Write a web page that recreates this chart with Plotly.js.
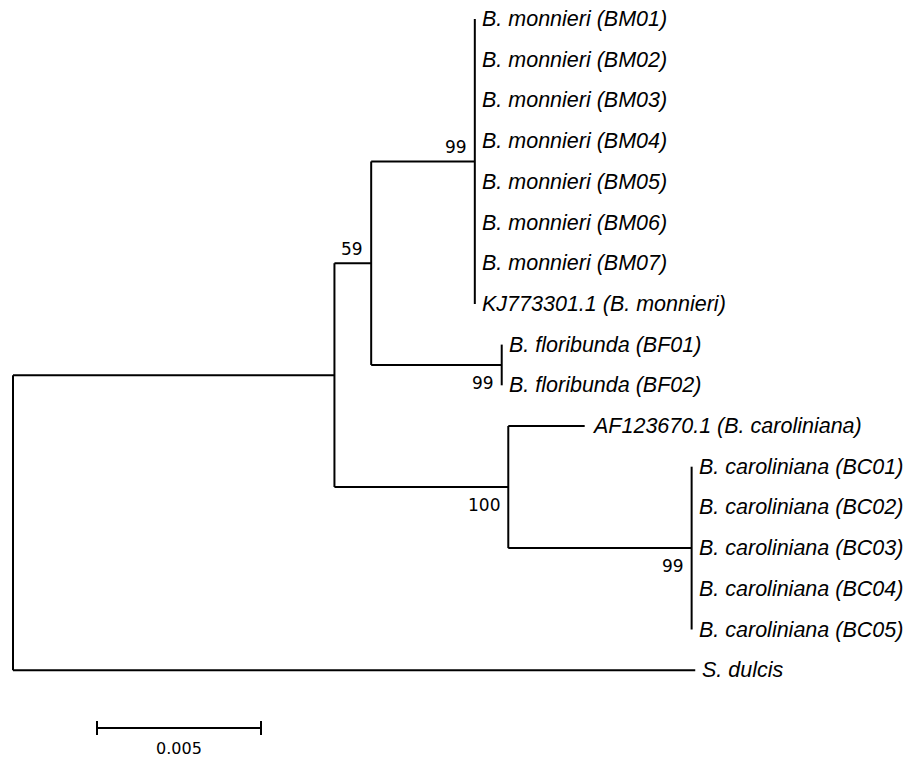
<!DOCTYPE html>
<html>
<head>
<meta charset="utf-8">
<script src="https://cdn.plot.ly/plotly-3.0.1.min.js"></script>
<style>html,body{margin:0;padding:0;background:#fff;}#chart{width:909px;height:758px;}</style>
</head>
<body>
<div id="chart"></div>
<script>
// ---- Data ----
// Internal nodes of the tree (parent, branch length in substitutions/site, bootstrap)
const nodeIds      = ['root', 'ingroup', 'n59', 'cladeBM', 'cladeBF', 'n100', 'cladeBC'];
const nodeParent   = [null,   'root',    'ingroup', 'n59',  'n59',     'ingroup', 'n100'];
const nodeLength   = [0,      0.0098,    0.00112,  0.00316, 0.00398,   0.0053,    0.00559];
const nodeBootstrap= [null,   null,      59,       99,      99,        100,       99];

// Taxa (leaves) in display order
const taxa = [
  'B. monnieri (BM01)', 'B. monnieri (BM02)', 'B. monnieri (BM03)', 'B. monnieri (BM04)',
  'B. monnieri (BM05)', 'B. monnieri (BM06)', 'B. monnieri (BM07)', 'KJ773301.1 (B. monnieri)',
  'B. floribunda (BF01)', 'B. floribunda (BF02)',
  'AF123670.1 (B. caroliniana)',
  'B. caroliniana (BC01)', 'B. caroliniana (BC02)', 'B. caroliniana (BC03)',
  'B. caroliniana (BC04)', 'B. caroliniana (BC05)',
  'S. dulcis'
];
const taxonParent = [
  'cladeBM','cladeBM','cladeBM','cladeBM','cladeBM','cladeBM','cladeBM','cladeBM',
  'cladeBF','cladeBF',
  'n100',
  'cladeBC','cladeBC','cladeBC','cladeBC','cladeBC',
  'root'
];
const taxonLength = [0,0,0,0,0,0,0,0, 0,0, 0.00233, 0,0,0,0,0, 0.0208];

const scaleBarLength = 0.005;
const scaleBarLabel = '0.005';

// ---- Layout of the tree ----
const W = 909, H = 758;
const pxPerUnit = 32800;      // horizontal scale
const rootPx = 13;            // root x in pixels
const rowPx = 40.7, firstRowPx = 19;

const xRange = [-rootPx / pxPerUnit, (W - rootPx) / pxPerUnit];
const yRange = [(H - firstRowPx) / rowPx, -firstRowPx / rowPx];

const X = {}, Y = {}, children = {};
nodeIds.forEach(id => children[id] = []);
nodeIds.forEach((id, i) => { if (nodeParent[i]) children[nodeParent[i]].push({id: id, len: nodeLength[i]}); });
taxa.forEach((t, i) => children[taxonParent[i]].push({id: 'T' + i, len: taxonLength[i]}));
taxa.forEach((t, i) => { Y['T' + i] = i; });

function computeY(id) {
  const ch = children[id] || [];
  if (!ch.length) return Y[id];
  const ys = ch.map(c => computeY(c.id));
  Y[id] = (Math.min(...ys) + Math.max(...ys)) / 2;
  return Y[id];
}
function place(id, x) {
  X[id] = x;
  (children[id] || []).forEach(c => place(c.id, x + c.len));
}
computeY('root');
place('root', 0);

const lx = [], ly = [];
function drawNode(id) {
  const ch = children[id] || [];
  if (!ch.length) return;
  const ys = ch.map(c => Y[c.id]);
  lx.push(X[id], X[id], null); ly.push(Math.min(...ys), Math.max(...ys), null);
  ch.forEach(c => {
    if (c.len > 0) { lx.push(X[id], X[c.id], null); ly.push(Y[c.id], Y[c.id], null); }
    drawNode(c.id);
  });
}
drawNode('root');

const traces = [{
  x: lx, y: ly, mode: 'lines', type: 'scatter',
  line: {color: '#000', width: 2}, hoverinfo: 'skip', connectgaps: false
}];

// scale bar
const sbStart = (97 - rootPx) / pxPerUnit;
const sbY = (728 - firstRowPx) / rowPx;
const tk = 7 / rowPx;
traces.push({
  x: [sbStart, sbStart + scaleBarLength, null, sbStart, sbStart, null, sbStart + scaleBarLength, sbStart + scaleBarLength],
  y: [sbY, sbY, null, sbY - tk, sbY + tk, null, sbY - tk, sbY + tk],
  mode: 'lines', type: 'scatter', line: {color: '#000', width: 2}, hoverinfo: 'skip'
});

const annotations = [];
taxa.forEach((t, i) => {
  annotations.push({
    x: X['T' + i], y: Y['T' + i], xref: 'x', yref: 'y', text: t, showarrow: false,
    xanchor: 'left', yanchor: 'middle', xshift: 5, yshift: 0,
    font: {family: 'Liberation Sans, Arial, sans-serif', size: 21.5, color: '#000', style: 'italic'}
  });
});
nodeIds.forEach((id, i) => {
  if (nodeBootstrap[i] == null) return;
  const p = nodeParent[i];
  const sib = children[p].map(c => Y[c.id]);
  const isFirst = Y[id] === Math.min(...sib);
  annotations.push({
    x: X[id], y: Y[id], xref: 'x', yref: 'y', text: String(nodeBootstrap[i]), showarrow: false,
    xanchor: 'right', yanchor: 'middle', xshift: -6, yshift: isFirst ? 14 : -18,
    font: {family: 'DejaVu Sans, Verdana, sans-serif', size: 17, color: '#000'}
  });
});
annotations.push({
  x: sbStart + scaleBarLength / 2, y: sbY, xref: 'x', yref: 'y', text: scaleBarLabel, showarrow: false,
  xanchor: 'center', yanchor: 'middle', yshift: -20,
  font: {family: 'DejaVu Sans, Verdana, sans-serif', size: 16, color: '#000'}
});

const layout = {
  width: W, height: H, margin: {l: 0, r: 0, t: 0, b: 0},
  paper_bgcolor: '#fff', plot_bgcolor: '#fff', showlegend: false,
  xaxis: {range: xRange, visible: false, showgrid: false, zeroline: false, fixedrange: true},
  yaxis: {range: yRange, visible: false, showgrid: false, zeroline: false, fixedrange: true},
  annotations: annotations
};
Plotly.newPlot('chart', traces, layout, {displayModeBar: false, staticPlot: true});
</script>
</body>
</html>
